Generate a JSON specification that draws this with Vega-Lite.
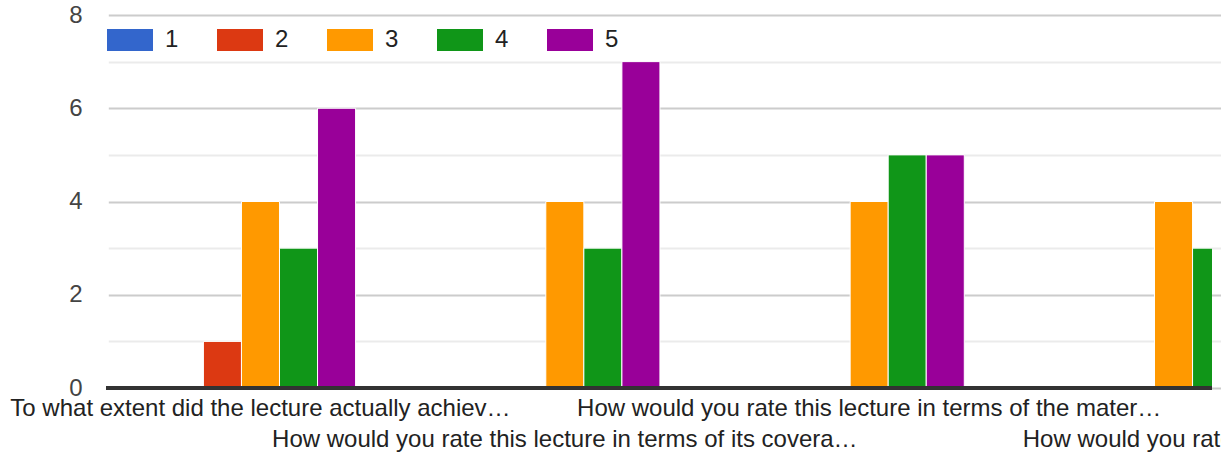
{
  "$schema": "https://vega.github.io/schema/vega-lite/v6.json",
  "autosize": {"type": "none"},
  "width": 1106,
  "height": 373,
  "padding": {"left": 106, "top": 15, "right": 9, "bottom": 64},
  "background": "white",
  "config": {
    "view": {"stroke": null},
    "font": "Liberation Sans"
  },
  "data": {
    "values": [
      {"question": "To what extent did the lecture actually achiev…", "rating": "1", "count": 0},
      {"question": "To what extent did the lecture actually achiev…", "rating": "2", "count": 1},
      {"question": "To what extent did the lecture actually achiev…", "rating": "3", "count": 4},
      {"question": "To what extent did the lecture actually achiev…", "rating": "4", "count": 3},
      {"question": "To what extent did the lecture actually achiev…", "rating": "5", "count": 6},
      {"question": "How would you rate this lecture in terms of its covera…", "rating": "1", "count": 0},
      {"question": "How would you rate this lecture in terms of its covera…", "rating": "2", "count": 0},
      {"question": "How would you rate this lecture in terms of its covera…", "rating": "3", "count": 4},
      {"question": "How would you rate this lecture in terms of its covera…", "rating": "4", "count": 3},
      {"question": "How would you rate this lecture in terms of its covera…", "rating": "5", "count": 7},
      {"question": "How would you rate this lecture in terms of the mater…", "rating": "1", "count": 0},
      {"question": "How would you rate this lecture in terms of the mater…", "rating": "2", "count": 0},
      {"question": "How would you rate this lecture in terms of the mater…", "rating": "3", "count": 4},
      {"question": "How would you rate this lecture in terms of the mater…", "rating": "4", "count": 5},
      {"question": "How would you rate this lecture in terms of the mater…", "rating": "5", "count": 5},
      {"question": "How would you rate overall?", "rating": "1", "count": 0},
      {"question": "How would you rate overall?", "rating": "2", "count": 0},
      {"question": "How would you rate overall?", "rating": "3", "count": 4},
      {"question": "How would you rate overall?", "rating": "4", "count": 3},
      {"question": "How would you rate overall?", "rating": "5", "count": 7}
    ]
  },
  "layer": [
    {
      "mark": {"type": "bar", "clip": true, "stroke": "white", "strokeWidth": 1},
      "encoding": {
        "x": {
          "field": "question",
          "type": "nominal",
          "sort": null,
          "scale": {"range": [2.3, 1219.7], "paddingInner": 0.375, "paddingOuter": 0.1875},
          "axis": {
            "title": null,
            "domain": false,
            "ticks": false,
            "labelAngle": 0,
            "labelAlign": "center",
            "labelBaseline": "top",
            "labelFontSize": 24,
            "labelColor": "#222222",
            "labelLimit": 0,
            "labelOverlap": false,
            "labelBound": false,
            "labelFlush": false,
            "labelPadding": 8,
            "labelLineHeight": 31,
            "labelExpr": "indexof(['To what extent did the lecture actually achiev…','How would you rate this lecture in terms of its covera…','How would you rate this lecture in terms of the mater…','How would you rate overall?'], datum.value) % 2 == 1 ? ['', datum.value] : datum.value"
          }
        },
        "xOffset": {"field": "rating", "type": "nominal", "scale": {"paddingInner": 0, "paddingOuter": 0}},
        "y": {
          "field": "count",
          "type": "quantitative",
          "scale": {"domain": [0, 8], "nice": false},
          "axis": {
            "title": null,
            "domain": false,
            "ticks": false,
            "values": [0, 1, 2, 3, 4, 5, 6, 7, 8],
            "labelExpr": "datum.value % 2 == 0 ? datum.label : ''",
            "labelFontSize": 24,
            "labelColor": "#444444",
            "labelPadding": 24,
            "gridColor": {"condition": {"test": "datum.value % 2 == 0", "value": "#cccccc"}, "value": "#ebebeb"},
            "gridWidth": 2
          }
        },
        "color": {
          "field": "rating",
          "type": "nominal",
          "scale": {"domain": ["1", "2", "3", "4", "5"], "range": ["#3366cc", "#dc3912", "#ff9900", "#109618", "#990099"]},
          "legend": {
            "title": null,
            "orient": "none",
            "legendX": 1,
            "legendY": 2,
            "direction": "horizontal",
            "columns": 5,
            "columnPadding": 38,
            "labelOffset": 12,
            "labelFontSize": 24,
            "labelColor": "#222222",
            "symbolType": "M-1,-0.478H1V0.478H-1Z",
            "symbolSize": 2116,
            "symbolStrokeWidth": 0,
            "symbolOpacity": 1
          }
        }
      }
    },
    {
      "mark": {"type": "rule", "color": "#333333", "strokeWidth": 3},
      "encoding": {"y": {"datum": 0}}
    }
  ]
}
